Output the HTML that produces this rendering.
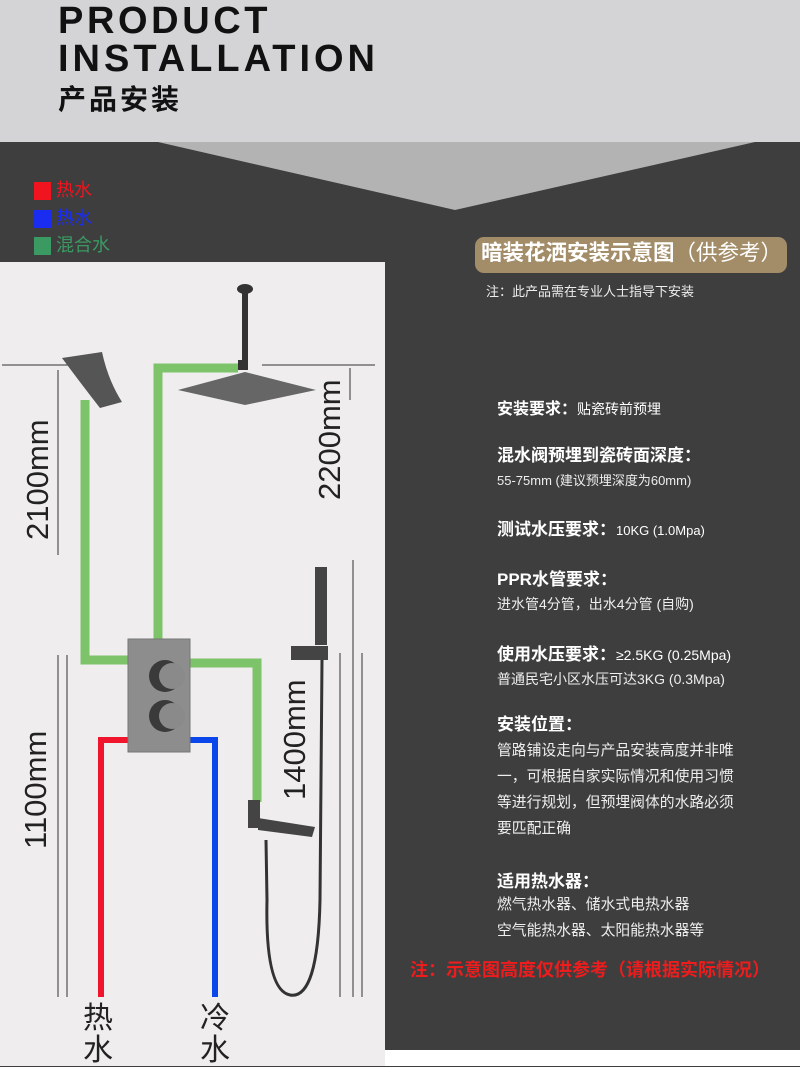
<!DOCTYPE html>
<html><head><meta charset="utf-8">
<style>
*{margin:0;padding:0}
body{width:800px;height:1066px;position:relative;overflow:hidden;background:#3f3e3f;font-family:"Liberation Sans","Noto Sans CJK SC",sans-serif}
.t{position:absolute;white-space:nowrap;line-height:1}
.h{color:#fff;font-weight:bold;font-size:17px}
.b{color:#eee;font-size:14px}
</style></head><body>
<svg width="800" height="1066" style="position:absolute;left:0;top:0">
<rect x="0" y="0" width="800" height="142" fill="#d4d4d6"/>
<polygon points="158,142 755,142 455,210" fill="#b4b3b4"/>
<rect x="0" y="1050" width="800" height="16" fill="#fff"/>
<rect x="0" y="262" width="385" height="804" fill="#efedee"/>
<rect x="34" y="182" width="17" height="18" fill="#f0141e"/>
<rect x="34" y="210" width="17" height="18" fill="#1a2cf0"/>
<rect x="34" y="237" width="17" height="18" fill="#3a9a62"/>
<rect x="475" y="237" width="312" height="36" rx="9" fill="#a38c68"/>
<g stroke="#333" stroke-width="1" fill="none">
<line x1="2" y1="365" x2="68" y2="365"/><line x1="58" y1="370" x2="58" y2="555"/>
<line x1="262" y1="365" x2="375" y2="365"/><line x1="350" y1="368" x2="350" y2="400"/>
<line x1="58" y1="655" x2="58" y2="997"/><line x1="67" y1="655" x2="67" y2="997"/>
<line x1="340" y1="653" x2="340" y2="997"/><line x1="362" y1="653" x2="362" y2="997"/>
<line x1="353" y1="560" x2="353" y2="997"/>
</g>
<g fill="none" stroke="#7dc36a" stroke-width="9">
<polyline points="85,400 85,660 130,660"/>
<polyline points="158,640 158,368 238,368"/>
<polyline points="188,663 257,663 257,802"/>
</g>
<polyline points="101,997 101,740 130,740" fill="none" stroke="#f0142d" stroke-width="6"/>
<polyline points="215,997 215,740 188,740" fill="none" stroke="#0a46ea" stroke-width="6"/>
<path d="M62,358 L102,352 Q108,380 122,402 L100,408 Q82,385 62,358Z" fill="#555"/>
<ellipse cx="245" cy="289" rx="8" ry="5" fill="#333"/>
<rect x="242" y="292" width="6" height="70" fill="#333"/>
<rect x="238" y="360" width="10" height="10" fill="#333"/>
<polygon points="178,390 245,372 316,390 245,405" fill="#666"/>
<rect x="128" y="639" width="62" height="113" fill="#8d8d8d" stroke="#777"/>
<circle cx="165" cy="676" r="16" fill="#3a3a3a"/><circle cx="172" cy="676" r="13" fill="#8a8a8a"/>
<circle cx="165" cy="716" r="16" fill="#3a3a3a"/><circle cx="172" cy="716" r="13" fill="#8a8a8a"/>
<rect x="315" y="567" width="12" height="78" fill="#444"/>
<rect x="291" y="646" width="37" height="14" fill="#444"/>
<path d="M322,660 L320,900 Q318,1000 290,995 Q265,990 267,900 L266,840" fill="none" stroke="#333" stroke-width="3"/>
<rect x="248" y="800" width="12" height="28" fill="#444"/>
<polygon points="258,818 315,827 312,837 258,830" fill="#444"/>
</svg>
<div class="t" style="left:58px;top:2px;font-size:38px;font-weight:bold;letter-spacing:3.6px;color:#111">PRODUCT</div>
<div class="t" style="left:58px;top:40px;font-size:38px;font-weight:bold;letter-spacing:4px;color:#111">INSTALLATION</div>
<div class="t" style="left:58px;top:86px;font-size:28px;font-weight:bold;letter-spacing:3px;color:#111">产品安装</div>
<div class="t" style="left:56px;top:181px;font-size:18px;color:#f0141e">热水</div>
<div class="t" style="left:56px;top:209px;font-size:18px;color:#1a2cf0">热水</div>
<div class="t" style="left:56px;top:236px;font-size:18px;color:#3a9a62">混合水</div>
<div class="t" style="left:481px;top:243px;font-size:21.5px;color:#fff;font-weight:bold">暗装花洒安装示意图<span style="font-weight:normal">（供参考）</span></div>
<div class="t b" style="left:486px;top:285px;font-size:13px">注：此产品需在专业人士指导下安装</div>
<div class="t" style="left:497px;top:402px;color:#fff;font-size:14px"><b style="font-size:16px">安装要求：</b>贴瓷砖前预埋</div>
<div class="t h" style="left:497px;top:447px">混水阀预埋到瓷砖面深度：</div>
<div class="t b" style="left:497px;top:474px;font-size:13px">55-75mm (建议预埋深度为60mm)</div>
<div class="t" style="left:497px;top:521px;color:#fff;font-size:13px"><b style="font-size:17px">测试水压要求：</b>10KG (1.0Mpa)</div>
<div class="t h" style="left:497px;top:571px">PPR水管要求：</div>
<div class="t b" style="left:497px;top:597px">进水管4分管，出水4分管 (自购)</div>
<div class="t" style="left:497px;top:646px;color:#fff;font-size:14px"><b style="font-size:17px">使用水压要求：</b>≥2.5KG (0.25Mpa)</div>
<div class="t b" style="left:497px;top:672px">普通民宅小区水压可达3KG (0.3Mpa)</div>
<div class="t h" style="left:497px;top:716px">安装位置：</div>
<div class="t b" style="left:497px;top:744px;font-size:14.8px">管路铺设走向与产品安装高度并非唯</div>
<div class="t b" style="left:497px;top:770px;font-size:14.8px">一，可根据自家实际情况和使用习惯</div>
<div class="t b" style="left:497px;top:796px;font-size:14.8px">等进行规划，但预埋阀体的水路必须</div>
<div class="t b" style="left:497px;top:822px;font-size:14.8px">要匹配正确</div>
<div class="t h" style="left:497px;top:873px">适用热水器：</div>
<div class="t b" style="left:497px;top:898px;font-size:14.8px">燃气热水器、储水式电热水器</div>
<div class="t b" style="left:497px;top:924px;font-size:14.8px">空气能热水器、太阳能热水器等</div>
<div class="t" style="left:410px;top:961px;font-size:18px;font-weight:bold;color:#ee1c1c">注：示意图高度仅供参考（请根据实际情况）</div>
<div class="t" style="left:22px;top:540px;font-size:31px;color:#222;transform:rotate(-90deg);transform-origin:0 0">2100mm</div>
<div class="t" style="left:314px;top:500px;font-size:31px;color:#222;transform:rotate(-90deg);transform-origin:0 0">2200mm</div>
<div class="t" style="left:20px;top:849px;font-size:31px;color:#222;transform:rotate(-90deg);transform-origin:0 0">1100mm</div>
<div class="t" style="left:279px;top:800px;font-size:31px;color:#222;transform:rotate(-90deg);transform-origin:0 0">1400mm</div>
<div class="t" style="left:83px;top:1003px;font-size:30px;color:#222;width:32px;white-space:normal;line-height:32px">热水</div>
<div class="t" style="left:200px;top:1003px;font-size:30px;color:#222;width:32px;white-space:normal;line-height:32px">冷水</div>
</body></html>
